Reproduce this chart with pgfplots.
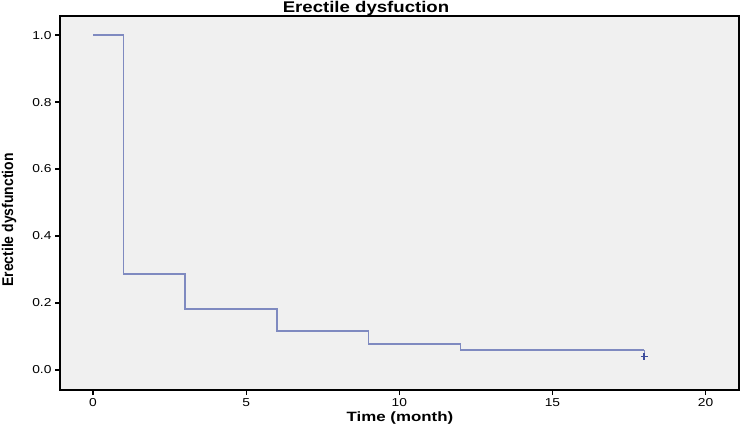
\documentclass[border=0pt]{standalone}
\usepackage{fontspec}
\setmainfont{Liberation Sans}
\newfontfamily\tickfont[FakeStretch=1.2]{Liberation Sans}
\newfontfamily\xlabfont[FakeStretch=1.25]{Liberation Sans}
\newfontfamily\ylabfont[FakeStretch=0.9]{Liberation Sans}
\newfontfamily\titlefont[FakeStretch=1.2]{Liberation Sans}
\usepackage{pgfplots}
\pgfplotsset{compat=1.18}
\usetikzlibrary{calc}
\definecolor{bgcol}{HTML}{F0F0F0}
\definecolor{linecol}{HTML}{7F8AC0}
\definecolor{markcol}{HTML}{3C4C9C}
\begin{document}
\begin{tikzpicture}
\begin{axis}[
  scale only axis,
  width=679bp, height=374bp,
  xmin=-1.08, xmax=21.09,
  ymin=-0.06, ymax=1.057,
  axis background/.style={fill=bgcol},
  axis line style={black, line width=1.1bp},
  xtick={0,5,10,15,20},
  ytick={0,0.2,0.4,0.6,0.8,1.0},
  tick pos=left,
  tick align=outside,
  major tick length=5bp,
  every tick/.style={black, line width=1.3bp},
  /pgf/number format/assume math mode=true,
  yticklabel style={/pgf/number format/.cd, fixed, fixed zerofill, precision=1},
  ticklabel style={font=\tickfont\fontsize{11.5bp}{13bp}\selectfont},
  xticklabel style={yshift=0bp},
]
\addplot[const plot, color=linecol, line width=1.5bp] coordinates {
  (0,1.0) (1,0.287) (3,0.182) (6,0.116) (9,0.078) (12,0.060) (18,0.060)
};
\addplot[color=linecol, line width=1.5bp] coordinates {(18,0.060) (18,0.046)};
\addplot[only marks, mark=+, mark size=3.5bp, color=markcol, line width=1.9bp] coordinates {(18,0.040)};
\end{axis}
\node[anchor=base, font=\titlefont\bfseries\fontsize{15.5bp}{17bp}\selectfont] at ($(current axis.north west)+(306bp,3.8bp)$) {Erectile dysfuction};
\node[anchor=base, font=\xlabfont\bfseries\fontsize{13.5bp}{15bp}\selectfont] at ($(current axis.south west)+(340bp,-31bp)$) {Time (month)};
\node[anchor=base, rotate=90, font=\ylabfont\bfseries\fontsize{15.5bp}{17bp}\selectfont] at ($(current axis.south west)+(-47bp,170bp)$) {Erectile dysfunction};
\pgfresetboundingbox
\path ($(current axis.south west)+(-60bp,-44bp)$) rectangle ($(current axis.north east)+(3bp,16bp)$);
\end{tikzpicture}
\end{document}
